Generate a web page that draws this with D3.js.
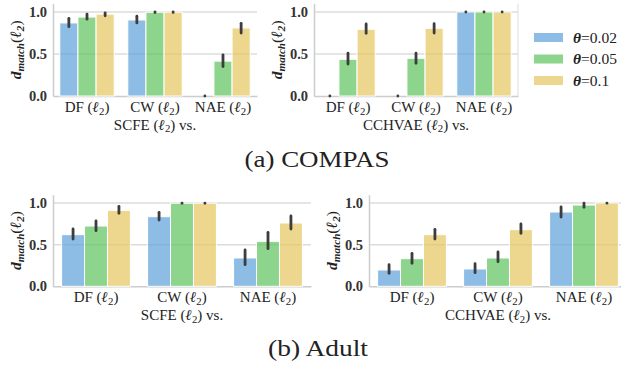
<!DOCTYPE html>
<html>
<head>
<meta charset="utf-8">
<script src="https://cdn.jsdelivr.net/npm/d3@7"></script>
<style>
  body { margin: 0; background: #fff; }
  svg { display: block; }
  text { font-family: "Liberation Serif", serif; fill: #222; }
</style>
</head>
<body>
<div id="chart"></div>
<script>
// ---- data ----
const categories = ['DF', 'CW', 'NAE'];
const thetas = ['0.02', '0.05', '0.1'];
const colors = ['#5c9fda', '#5cc35c', '#e6c65e'];

// mean values, one row per category, one column per theta
const compasScfe = [[0.87, 0.94, 0.975], [0.905, 0.997, 0.998], [0.0, 0.415, 0.81]];
const compasScfeLo = [[0.825, 0.915, 0.955], [0.87, 0.993, 0.995], [0.0, 0.35, 0.75]];
const compasScfeHi = [[0.925, 0.975, 0.99], [0.95, 1.0, 1.0], [0.0, 0.49, 0.865]];

const compasCchvae = [[0.0, 0.437, 0.794], [0.0, 0.449, 0.806], [1.0, 1.0, 1.0]];
const compasCchvaeLo = [[0.0, 0.38, 0.746], [0.0, 0.39, 0.75], [1.0, 1.0, 1.0]];
const compasCchvaeHi = [[0.0, 0.51, 0.857], [0.0, 0.51, 0.86], [1.0, 1.0, 1.0]];

const adultScfe = [[0.62, 0.724, 0.912], [0.836, 0.998, 0.998], [0.34, 0.54, 0.76]];
const adultScfeLo = [[0.568, 0.668, 0.876], [0.796, 0.996, 0.996], [0.26, 0.452, 0.688]];
const adultScfeHi = [[0.688, 0.784, 0.96], [0.888, 1.0, 1.0], [0.436, 0.648, 0.844]];

const adultCchvae = [[0.196, 0.332, 0.62], [0.208, 0.34, 0.68], [0.892, 0.976, 1.0]];
const adultCchvaeLo = [[0.156, 0.276, 0.568], [0.164, 0.296, 0.636], [0.832, 0.948, 0.998]];
const adultCchvaeHi = [[0.26, 0.396, 0.684], [0.272, 0.412, 0.748], [0.952, 1.0, 1.0]];

const yTicks = [0, 0.5, 1.0];
const captions = ['(a) COMPAS', '(b) Adult'];

// ---- layout ----
const width = 621;
const height = 367;

const panels = [
  {left: 53, right: 257, top: 3.6, bottom: 96, method: 'SCFE', mean: compasScfe, lo: compasScfeLo, hi: compasScfeHi, rightSpine: false},
  {left: 314, right: 518, top: 3.6, bottom: 96, method: 'CCHVAE', mean: compasCchvae, lo: compasCchvaeLo, hi: compasCchvaeHi, rightSpine: true},
  {left: 53, right: 311, top: 194.7, bottom: 286.3, method: 'SCFE', mean: adultScfe, lo: adultScfeLo, hi: adultScfeHi, rightSpine: false},
  {left: 369, right: 627, top: 194.7, bottom: 286.3, method: 'CCHVAE', mean: adultCchvae, lo: adultCchvaeLo, hi: adultCchvaeHi, rightSpine: false}
];

const svg = d3.select('#chart').append('svg')
  .attr('width', width)
  .attr('height', height);

// writes "<prefix> (ℓ2)<suffix>" with a subscript
function ell2(sel, prefix, suffix) {
  sel.append('tspan').text(prefix + ' (');
  sel.append('tspan').attr('font-style', 'italic').attr('font-weight', 'bold').text('ℓ');
  sel.append('tspan').attr('font-size', '0.72em').attr('dy', '0.25em').text('2');
  sel.append('tspan').attr('dy', '-0.18em').text(')' + suffix);
}

panels.forEach(p => {
  const g = svg.append('g');

  const x = d3.scaleBand()
    .domain(categories)
    .range([p.left, p.right])
    .padding(0);
  const x1 = d3.scaleBand()
    .domain(thetas)
    .range([x.bandwidth() * 0.1, x.bandwidth() * 0.9])
    .padding(0);
  const y = d3.scaleLinear()
    .domain([0, 1.1])
    .range([p.bottom, p.top]);

  // grid
  g.append('g')
    .selectAll('line')
    .data(yTicks.filter(t => t > 0))
    .join('line')
    .attr('x1', p.left)
    .attr('x2', p.right)
    .attr('y1', d => y(d))
    .attr('y2', d => y(d))
    .attr('stroke', '#dcdcdc')
    .attr('stroke-width', 1.5);

  // y axis
  const yAxis = d3.axisLeft(y).tickValues(yTicks).tickFormat(d3.format('.1f')).tickSize(0).tickPadding(6);
  const yg = g.append('g')
    .attr('transform', `translate(${p.left},0)`)
    .call(yAxis);
  yg.select('.domain').attr('stroke', '#cccccc').attr('stroke-width', 1.5);
  yg.selectAll('.tick text')
    .style('font-weight', 'bold')
    .style('font-size', '14.5px')
    .style('fill', '#333');

  // x axis
  const xAxis = d3.axisBottom(x).tickSize(0).tickFormat('');
  const xg = g.append('g')
    .attr('transform', `translate(0,${p.bottom})`)
    .call(xAxis);
  xg.select('.domain').attr('stroke', '#cccccc').attr('stroke-width', 1.5);

  if (p.rightSpine) {
    g.append('line')
      .attr('x1', p.right).attr('x2', p.right)
      .attr('y1', p.top).attr('y2', p.bottom)
      .attr('stroke', '#dddddd')
      .attr('stroke-width', 1);
  }

  // bars
  const rows = [];
  categories.forEach((c, i) => {
    thetas.forEach((t, j) => {
      rows.push({cat: c, theta: t, j: j, v: p.mean[i][j], lo: p.lo[i][j], hi: p.hi[i][j]});
    });
  });

  g.append('g')
    .selectAll('rect')
    .data(rows)
    .join('rect')
    .attr('x', d => x(d.cat) + x1(d.theta))
    .attr('y', d => y(d.v))
    .attr('width', x1.bandwidth())
    .attr('height', d => y(0) - y(d.v))
    .attr('fill', d => colors[d.j])
    .attr('fill-opacity', 0.7)
    .attr('stroke', '#ffffff')
    .attr('stroke-width', 1);

  // error bars
  g.append('g')
    .selectAll('line')
    .data(rows)
    .join('line')
    .attr('x1', d => x(d.cat) + x1(d.theta) + x1.bandwidth() / 2)
    .attr('x2', d => x(d.cat) + x1(d.theta) + x1.bandwidth() / 2)
    .attr('y1', d => y(d.lo))
    .attr('y2', d => y(d.hi))
    .attr('stroke', '#3d3d3d')
    .attr('stroke-width', 2.8)
    .attr('stroke-linecap', 'round');

  // category labels
  categories.forEach(c => {
    const t = g.append('text')
      .attr('x', x(c) + x.bandwidth() / 2)
      .attr('y', p.bottom + 16)
      .attr('text-anchor', 'middle')
      .attr('font-size', 15);
    ell2(t, c, '');
  });

  // x title
  const xt = g.append('text')
    .attr('x', (p.left + p.right) / 2)
    .attr('y', p.bottom + 33.5)
    .attr('text-anchor', 'middle')
    .attr('font-size', 15);
  ell2(xt, p.method, ' vs.');

  // y title
  const yt = g.append('text')
    .attr('transform', `translate(${p.left - 32},${(p.top + p.bottom) / 2}) rotate(-90)`)
    .attr('text-anchor', 'middle')
    .attr('font-size', 15.5)
    .attr('font-weight', 'bold')
    .attr('font-style', 'italic');
  yt.append('tspan').text('d');
  yt.append('tspan').attr('font-size', '0.72em').attr('dy', '0.3em').text('match');
  yt.append('tspan').attr('dy', '-0.22em').attr('font-style', 'normal').attr('font-weight', 'normal').text('(');
  yt.append('tspan').text('ℓ');
  yt.append('tspan').attr('font-size', '0.72em').attr('dy', '0.25em').text('2');
  yt.append('tspan').attr('dy', '-0.18em').attr('font-style', 'normal').attr('font-weight', 'normal').text(')');
});

// legend
const legend = svg.append('g').attr('transform', 'translate(534,37.5)');
thetas.forEach((t, j) => {
  const row = legend.append('g').attr('transform', `translate(0,${j * 21.5})`);
  row.append('rect')
    .attr('x', 0).attr('y', -4.5)
    .attr('width', 29).attr('height', 9)
    .attr('fill', colors[j])
    .attr('fill-opacity', 0.7);
  const tx = row.append('text')
    .attr('x', 39).attr('y', 5)
    .attr('font-size', 15.5);
  tx.append('tspan').attr('font-style', 'italic').attr('font-weight', 'bold').text('θ');
  tx.append('tspan').text('=' + t);
});

// captions
svg.append('text')
  .attr('x', 317).attr('y', 167)
  .attr('text-anchor', 'middle')
  .attr('font-size', 23)
  .attr('fill', '#111')
  .attr('textLength', 145)
  .attr('lengthAdjust', 'spacingAndGlyphs')
  .text(captions[0]);
svg.append('text')
  .attr('x', 318).attr('y', 356)
  .attr('text-anchor', 'middle')
  .attr('font-size', 23)
  .attr('fill', '#111')
  .attr('textLength', 100)
  .attr('lengthAdjust', 'spacingAndGlyphs')
  .text(captions[1]);
</script>
</body>
</html>
